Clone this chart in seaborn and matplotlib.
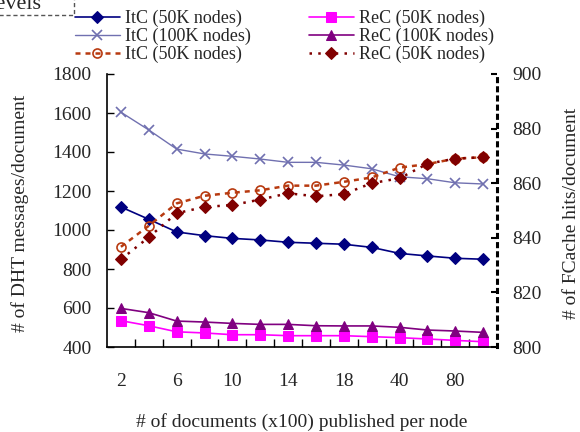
import numpy as np
import pandas as pd
import matplotlib
matplotlib.use("Agg")
import matplotlib.pyplot as plt
import seaborn as sns
from matplotlib.patches import Rectangle

categories = [2, 4, 6, 8, 10, 12, 14, 16, 18, 20, 40, 60, 80, 100]
tick_labels = ["2", "", "6", "", "10", "", "14", "", "18", "", "40", "", "80", ""]

itc_50k_msgs = [1118, 1055, 990, 971, 957, 949, 937, 932, 927, 911, 880, 867, 855, 850]
itc_100k_msgs = [1604, 1513, 1415, 1390, 1378, 1364, 1347, 1347, 1333, 1314, 1273, 1263, 1242, 1236]
rec_50k_msgs = [535, 509, 478, 472, 463, 463, 458, 458, 458, 453, 448, 441, 434, 427]
rec_100k_msgs = [598, 576, 533, 528, 521, 516, 516, 509, 508, 508, 501, 487, 482, 475]
itc_50k_hits = [836.7, 844.4, 852.6, 855.4, 856.5, 857.4, 859.1, 859.1, 860.5, 862.1, 865.7, 867.0, 869.0, 869.5]
rec_50k_hits = [832.1, 840.2, 849.0, 851.3, 852.0, 854.0, 856.3, 855.2, 856.0, 860.0, 861.8, 867.1, 869.0, 869.5]

sns.set_style("ticks")
plt.rcParams["font.family"] = ["Liberation Serif", "DejaVu Serif"]
plt.rcParams["font.size"] = 14

fig = plt.figure(figsize=(5.8, 4.32), dpi=100)
ax = fig.add_axes([107 / 580, 1 - 347 / 432, (497 - 107) / 580, (347 - 74) / 432])
ax2 = ax.twinx()

xpos = np.arange(len(categories))

sns.lineplot(x=xpos, y=itc_50k_msgs, ax=ax, color="#000080", lw=1.2, marker="D",
             markersize=6.5, markeredgecolor="#000080", label="ItC (50K nodes)")
sns.lineplot(x=xpos, y=itc_100k_msgs, ax=ax, color="#7070B0", lw=1.0, marker="x",
             markersize=7.5, markeredgewidth=1.2, markeredgecolor="#7070B0", label="ItC (100K nodes)")
sns.lineplot(x=xpos, y=rec_50k_msgs, ax=ax, color="#FF00FF", lw=1.2, marker="s",
             markersize=6.5, markeredgecolor="#FF00FF", label="ReC (50K nodes)")
sns.lineplot(x=xpos, y=rec_100k_msgs, ax=ax, color="#800080", lw=1.2, marker="^",
             markersize=7.5, markeredgecolor="#800080", label="ReC (100K nodes)")
sns.lineplot(x=xpos, y=itc_50k_hits, ax=ax2, color="#B83A10", lw=1.8, dashes=(2, 2),
             marker="o", markersize=6.5, markerfacecolor="none", markeredgecolor="#B83A10",
             markeredgewidth=1.2, label="ItC (50K nodes)")
sns.lineplot(x=xpos, y=rec_50k_hits, ax=ax2, color="#800000", lw=1.8, dashes=(1, 2.5),
             marker="D", markersize=6.5, markeredgecolor="#800000", label="ReC (50K nodes)")

h1, l1 = ax.get_legend_handles_labels()
h2, l2 = ax2.get_legend_handles_labels()
ax.get_legend().remove()
ax2.get_legend().remove()
handles = [h1[0], h1[1], h2[0], h1[2], h1[3], h2[1]]
labels = [l1[0], l1[1], l2[0], l1[2], l1[3], l2[1]]
fig.legend(handles, labels, ncol=2, loc="upper left", bbox_to_anchor=(62 / 580, 1 + 3 / 432),
           frameon=False, fontsize=13, handlelength=2.5, handletextpad=0.3,
           columnspacing=3.2, labelspacing=0.05, borderpad=0.2)

ax.set_xlim(-0.5, len(categories) - 0.5)
ax.set_ylim(400, 1800)
ax.set_yticks(np.arange(400, 1801, 200))
ax2.set_ylim(800, 900)
ax2.set_yticks(np.arange(800, 901, 20))

ax.set_xticks(xpos)
ax.set_xticklabels(tick_labels)
ax.set_xticks(xpos[:-1] + 0.5, minor=True)
ax.tick_params(axis="x", which="major", length=0, pad=19, labelsize=14)
ax.tick_params(axis="x", which="minor", direction="in", length=6, width=1, color="black")
ax.tick_params(axis="y", direction="in", length=5, width=1, pad=11, labelsize=14, color="black")
ax2.tick_params(axis="y", direction="in", length=4, width=1.5, pad=11, labelsize=14, color="black")

ax.spines["top"].set_visible(False)
ax2.spines["top"].set_visible(False)
ax.spines["left"].set_color("black")
ax.spines["bottom"].set_color("black")
ax.spines["left"].set_linewidth(1.2)
ax.spines["bottom"].set_linewidth(1.2)
ax2.spines["right"].set_color("black")
ax2.spines["right"].set_linewidth(2.2)
ax2.spines["right"].set_linestyle((0, (1, 2)))
ax2.spines["left"].set_visible(False)
ax2.spines["bottom"].set_visible(False)
ax.spines["right"].set_visible(False)

ax.set_xlabel("# of documents (x100) published per node", fontsize=14)
ax.set_ylabel("# of DHT messages/document", fontsize=14)
ax2.set_ylabel("# of FCache hits/document", fontsize=14, rotation=90)
ax.xaxis.set_label_coords(0.5, -0.243)
ax.yaxis.set_label_coords(-0.2, 0.49)
ax2.yaxis.set_label_coords(1.168, 0.49)

# cut-off annotation box at top-left
fig.patches.append(Rectangle((-30 / 580, 1 - 15 / 432), 104 / 580, 40 / 432,
                             transform=fig.transFigure, fill=False, edgecolor="#555555",
                             linestyle=(0, (3, 2)), linewidth=1.0))
fig.text(41 / 580, 1 - 9 / 432, "Levels", ha="right", va="baseline", fontsize=16)

fig.savefig("out.png", dpi=100)
